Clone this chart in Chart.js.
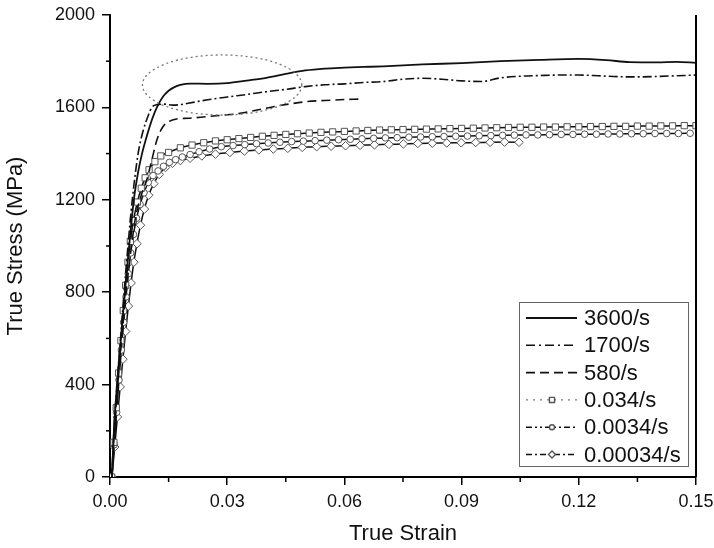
<!DOCTYPE html>
<html>
<head>
<meta charset="utf-8">
<script src="https://cdn.jsdelivr.net/npm/chart.js@4.4.1/dist/chart.umd.min.js"></script>
<style>
  html, body { margin: 0; padding: 0; background: #fff; }
  #wrap { width: 714px; height: 548px; }
</style>
</head>
<body>
<div id="wrap"><canvas id="chart" width="714" height="548"></canvas></div>
<script>
// valores (deformacion verdadera / tension verdadera en MPa)
const rateLabels = ["3600/s", "1700/s", "580/s", "0.034/s", "0.0034/s", "0.00034/s"];

const strain3600 = [0.0005, 0.001, 0.0018, 0.0028, 0.0038, 0.0049, 0.0061, 0.0072, 0.0082, 0.0095, 0.0108, 0.012, 0.0135, 0.015, 0.0165, 0.018, 0.0205, 0.025, 0.030, 0.035, 0.040, 0.045, 0.050, 0.055, 0.060, 0.065, 0.070, 0.080, 0.090, 0.100, 0.110, 0.120, 0.127, 0.133, 0.140, 0.145, 0.150];
const stress3600 = [0, 200, 400, 600, 800, 1000, 1200, 1320, 1400, 1480, 1550, 1600, 1645, 1672, 1688, 1697, 1703, 1702, 1705, 1716, 1728, 1745, 1760, 1768, 1772, 1775, 1778, 1786, 1792, 1800, 1806, 1810, 1805, 1796, 1795, 1797, 1793];

const strain1700 = [0.0005, 0.001, 0.0018, 0.0027, 0.0036, 0.0046, 0.0057, 0.0072, 0.0085, 0.0098, 0.0107, 0.012, 0.014, 0.016, 0.018, 0.020, 0.025, 0.030, 0.035, 0.040, 0.045, 0.050, 0.055, 0.060, 0.065, 0.070, 0.075, 0.080, 0.085, 0.090, 0.095, 0.100, 0.105, 0.110, 0.115, 0.120, 0.125, 0.130, 0.135, 0.140, 0.145, 0.150];
const stress1700 = [0, 200, 400, 600, 800, 1000, 1200, 1400, 1500, 1565, 1600, 1612, 1614, 1610, 1612, 1618, 1633, 1645, 1656, 1668, 1678, 1690, 1698, 1702, 1708, 1712, 1722, 1726, 1722, 1715, 1712, 1728, 1735, 1738, 1740, 1740, 1737, 1733, 1732, 1734, 1737, 1740];

const strain580 = [0.0005, 0.001, 0.0019, 0.0029, 0.004, 0.0052, 0.0065, 0.008, 0.0094, 0.0107, 0.012, 0.0135, 0.015, 0.017, 0.020, 0.0247, 0.030, 0.0333, 0.038, 0.0418, 0.046, 0.0503, 0.055, 0.060, 0.0636];
const stress580 = [0, 190, 380, 580, 780, 960, 1120, 1220, 1286, 1372, 1459, 1515, 1538, 1550, 1553, 1560, 1568, 1574, 1590, 1603, 1615, 1625, 1630, 1634, 1636];

const strain034 = [0.0004, 0.001, 0.0016, 0.0022, 0.0028, 0.0034, 0.004, 0.0046, 0.0052, 0.006, 0.007, 0.008, 0.009, 0.010, 0.0115, 0.013, 0.015,
  0.018, 0.021, 0.024, 0.027, 0.030, 0.033, 0.036, 0.039, 0.042, 0.045, 0.048, 0.051, 0.054, 0.057, 0.060, 0.063, 0.066, 0.069, 0.072, 0.075,
  0.078, 0.081, 0.084, 0.087, 0.090, 0.093, 0.096, 0.099, 0.102, 0.105, 0.108, 0.111, 0.114, 0.117, 0.120, 0.123, 0.126, 0.129, 0.132, 0.135,
  0.138, 0.141, 0.144, 0.147, 0.150];
const stress034 = [0, 150, 300, 450, 590, 720, 830, 930, 1020, 1110, 1190, 1250, 1295, 1330, 1365, 1390, 1405,
  1425, 1437, 1447, 1455, 1460, 1465, 1470, 1475, 1479, 1483, 1486, 1489, 1492, 1494, 1496, 1498, 1500, 1502, 1503, 1504,
  1505, 1506, 1507, 1508, 1509, 1510, 1511, 1512, 1513, 1514, 1514, 1515, 1515, 1516, 1516, 1517, 1517, 1518, 1518, 1519,
  1519, 1520, 1520, 1521, 1521];

const strain0034 = [0.0005, 0.0011, 0.0017, 0.0023, 0.0029, 0.0035, 0.0041, 0.0047, 0.0053, 0.006, 0.0068, 0.0077, 0.0087, 0.0098, 0.011, 0.0123,
  0.0137, 0.0152, 0.0168, 0.0185, 0.0205, 0.0228, 0.0255, 0.0285, 0.0315, 0.0345, 0.0375, 0.0405, 0.0435, 0.0465, 0.0495, 0.0525, 0.0555, 0.0585,
  0.0615, 0.0645, 0.0675, 0.0705, 0.0735, 0.0765, 0.0795, 0.0825, 0.0855, 0.0885, 0.0915, 0.0945, 0.0975, 0.1005, 0.1035, 0.1065, 0.1095, 0.1125,
  0.1155, 0.1185, 0.1215, 0.1245, 0.1275, 0.1305, 0.1335, 0.1365, 0.1395, 0.1425, 0.1455, 0.1485];
const stress0034 = [0, 140, 280, 420, 550, 670, 780, 880, 970, 1050, 1120, 1180, 1230, 1275, 1305, 1325,
  1345, 1362, 1374, 1385, 1396, 1408, 1420, 1430, 1435, 1439, 1443, 1446, 1449, 1452, 1454, 1456, 1458, 1460,
  1462, 1464, 1466, 1468, 1469, 1471, 1472, 1473, 1474, 1475, 1476, 1477, 1478, 1479, 1480, 1481, 1481, 1482,
  1483, 1483, 1484, 1484, 1485, 1485, 1486, 1486, 1487, 1487, 1487, 1488];

const strain00034 = [0.0005, 0.0012, 0.0019, 0.0026, 0.0033, 0.004, 0.0047, 0.0054, 0.0061, 0.0069, 0.0078, 0.0088, 0.0099, 0.0112, 0.0126, 0.0142,
  0.016, 0.018, 0.0205, 0.0235, 0.027, 0.0307, 0.0344, 0.0381, 0.0418, 0.0455, 0.0492, 0.0529, 0.0566, 0.0603, 0.064, 0.0677, 0.0714, 0.0751,
  0.0788, 0.0825, 0.0862, 0.0899, 0.0936, 0.0973, 0.101, 0.1047];
const stress00034 = [0, 130, 260, 390, 510, 630, 740, 840, 930, 1010, 1090, 1160, 1220, 1270, 1310, 1340,
  1358, 1370, 1380, 1390, 1398, 1405, 1411, 1416, 1420, 1423, 1427, 1430, 1432, 1434, 1436, 1438, 1440, 1442,
  1444, 1445, 1446, 1447, 1448, 1449, 1450, 1449];

const xTicks = [0, 0.03, 0.06, 0.09, 0.12, 0.15];
const yTicks = [0, 400, 800, 1200, 1600, 2000];

// elipse punteada alrededor del pico de fluencia (en unidades de datos)
const ellipseCenter = [0.0287, 1697];
const ellipseRadius = [0.0204, 130];

const FONT = "'Liberation Sans', Arial, sans-serif";

const pts = (xs, ys) => xs.map((x, i) => ({ x: x, y: ys[i] }));

// estilo de cada serie: trazo en el grafico y en la leyenda
const styles = [
  { dash: [], legendDash: [], width: 1.8, marker: null },
  { dash: [9, 3, 2, 3], legendDash: [9, 4, 2, 4], width: 1.6, marker: null },
  { dash: [9, 5], legendDash: [9, 5], width: 1.6, marker: null },
  { dash: [], legendDash: [2, 5], width: 1.5, marker: "rect", radius: 4.4, legendColor: "#777" },
  { dash: [], legendDash: [6, 3, 2, 3, 2, 3], width: 1.5, marker: "circle", radius: 3.3 },
  { dash: [], legendDash: [6, 3, 2, 3], width: 1.5, marker: "rectRot", radius: 4.3 }
];

const series = [
  pts(strain3600, stress3600),
  pts(strain1700, stress1700),
  pts(strain580, stress580),
  pts(strain034, stress034),
  pts(strain0034, stress0034),
  pts(strain00034, stress00034)
];

const datasets = series.map((d, i) => ({
  label: rateLabels[i],
  data: d,
  borderColor: "#111",
  borderWidth: styles[i].width,
  borderDash: styles[i].dash,
  pointStyle: styles[i].marker || "circle",
  pointRadius: styles[i].marker ? styles[i].radius : 0,
  pointBackgroundColor: "#fff",
  pointBorderColor: "#555",
  pointBorderWidth: 1,
  cubicInterpolationMode: "monotone",
  fill: false
}));

// ticks menores, borde derecho, elipse y leyenda
const extras = {
  id: "extras",
  afterDraw(chart) {
    const ctx = chart.ctx;
    const ca = chart.chartArea;
    const xs = chart.scales.x, ys = chart.scales.y;
    ctx.save();
    ctx.strokeStyle = "#000";
    ctx.lineWidth = 1.5;
    ctx.setLineDash([]);
    for (let i = 0; i < xTicks.length - 1; i++) {
      const px = xs.getPixelForValue((xTicks[i] + xTicks[i + 1]) / 2);
      ctx.beginPath(); ctx.moveTo(px, ca.bottom); ctx.lineTo(px, ca.bottom + 5); ctx.stroke();
    }
    for (let i = 0; i < yTicks.length - 1; i++) {
      const py = ys.getPixelForValue((yTicks[i] + yTicks[i + 1]) / 2);
      ctx.beginPath(); ctx.moveTo(ca.left, py); ctx.lineTo(ca.left - 4, py); ctx.stroke();
    }
    // borde derecho
    ctx.lineWidth = 2;
    ctx.beginPath(); ctx.moveTo(ca.right, ca.top); ctx.lineTo(ca.right, ca.bottom); ctx.stroke();

    // elipse
    const cx = xs.getPixelForValue(ellipseCenter[0]);
    const cy = ys.getPixelForValue(ellipseCenter[1]);
    const rx = xs.getPixelForValue(ellipseCenter[0] + ellipseRadius[0]) - cx;
    const ry = cy - ys.getPixelForValue(ellipseCenter[1] + ellipseRadius[1]);
    ctx.strokeStyle = "#777";
    ctx.lineWidth = 1.3;
    ctx.setLineDash([2, 3]);
    ctx.beginPath(); ctx.ellipse(cx, cy, rx, ry, 0, 0, Math.PI * 2); ctx.stroke();

    // leyenda
    const boxR = ca.right - 8, boxB = ca.bottom - 11;
    const boxL = boxR - 169, boxT = boxB - 164;
    ctx.setLineDash([]);
    ctx.strokeStyle = "#666";
    ctx.lineWidth = 1;
    ctx.fillStyle = "#fff";
    ctx.fillRect(boxL, boxT, boxR - boxL, boxB - boxT);
    ctx.strokeRect(boxL + 0.5, boxT + 0.5, boxR - boxL, boxB - boxT);
    ctx.font = "22px " + FONT;
    ctx.textBaseline = "middle";
    ctx.textAlign = "left";
    rateLabels.forEach((lab, i) => {
      const st = styles[i];
      const y = boxT + 16 + i * 27.3;
      ctx.strokeStyle = st.legendColor || "#111";
      ctx.lineWidth = st.marker ? 1.4 : st.width;
      ctx.setLineDash(st.legendDash);
      ctx.beginPath(); ctx.moveTo(boxL + 7, y); ctx.lineTo(boxL + 58, y); ctx.stroke();
      ctx.setLineDash([]);
      if (st.marker) {
        ctx.strokeStyle = "#555";
        ctx.fillStyle = "#fff";
        Chart.helpers.drawPoint(ctx, {
          pointStyle: st.marker, radius: st.radius - 0.8, rotation: 0, borderWidth: 1
        }, boxL + 33, y);
      }
      ctx.fillStyle = "#111";
      ctx.fillText(lab, boxL + 65, y + 1);
    });
    ctx.restore();
  }
};

new Chart(document.getElementById("chart").getContext("2d"), {
  type: "line",
  data: { datasets: datasets },
  options: {
    responsive: false,
    animation: false,
    devicePixelRatio: 1,
    layout: { padding: { top: 15, right: 18, left: 0, bottom: 0 } },
    plugins: { legend: { display: false }, tooltip: { enabled: false } },
    scales: {
      x: {
        type: "linear",
        min: 0, max: 0.15,
        afterFit: (s) => { s.height = 71; s.paddingLeft = 0; s.paddingRight = 0; },
        afterBuildTicks: (s) => { s.ticks = xTicks.map(v => ({ value: v })); },
        ticks: {
          color: "#111", padding: 6,
          font: { family: FONT, size: 18 },
          callback: (v) => Number(v).toFixed(2),
          maxRotation: 0, autoSkip: false
        },
        grid: { drawOnChartArea: false, drawTicks: true, tickLength: 8, color: "#000", lineWidth: 1.5 },
        border: { display: true, color: "#000", width: 2 },
        title: {
          display: true, text: "True Strain", color: "#111",
          font: { family: FONT, size: 22 }, padding: { top: 0, bottom: 1 }
        }
      },
      y: {
        type: "linear",
        min: 0, max: 2000,
        afterFit: (s) => { s.width = 110; s.paddingTop = 0; s.paddingBottom = 0; },
        afterBuildTicks: (s) => { s.ticks = yTicks.map(v => ({ value: v })); },
        ticks: {
          color: "#111", padding: 7,
          font: { family: FONT, size: 18 },
          callback: (v) => String(v),
          autoSkip: false
        },
        grid: { drawOnChartArea: false, drawTicks: true, tickLength: 8, color: "#000", lineWidth: 1.5 },
        border: { display: true, color: "#000", width: 2 },
        title: {
          display: true, text: "True Stress (MPa)", color: "#111",
          font: { family: FONT, size: 22 }, padding: { top: 3, bottom: 0 }
        }
      }
    }
  },
  plugins: [extras]
});
</script>
</body>
</html>
